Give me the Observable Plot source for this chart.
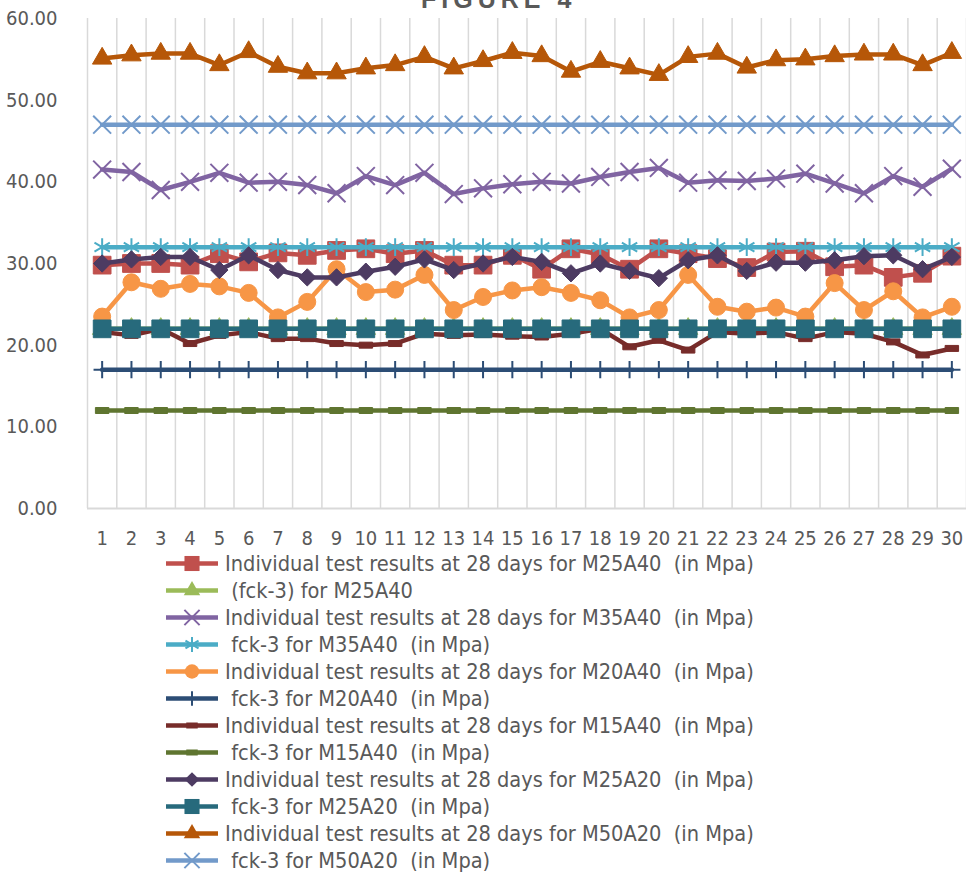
<!DOCTYPE html>
<html>
<head>
<meta charset="utf-8">
<script src="https://cdn.jsdelivr.net/npm/d3@7"></script>
<script src="https://cdn.jsdelivr.net/npm/@observablehq/plot@0.6"></script>
<style>
  body { margin: 0; background: #fff; overflow: hidden; }
  #wrap { position: relative; width: 966px; height: 876px; font-family: "Liberation Sans Narrow", "DejaVu Sans Condensed", "Liberation Sans", sans-serif; color: #595959; }
  #title { position: absolute; top: -13px; left: 421px; font-family: "Liberation Sans", sans-serif; font-weight: bold; font-size: 25px; letter-spacing: 5px; color: #595959; line-height: 25px; white-space: pre; }
  #chart { position: absolute; top: 0; left: 0; }
  #legend { position: absolute; top: 550px; left: 164px; }
  .row { height: 27px; display: flex; align-items: center; }
  .row svg { flex: none; }
  .row span { white-space: pre; font-size: 21.6px; color: #595959; margin-left: 5px; }
</style>
</head>
<body>
<div id="wrap">
  <div id="chart"></div>
  <div id="title">FIGURE 4</div>
  <div id="legend"></div>
</div>
<script>
const cats = [1,2,3,4,5,6,7,8,9,10,11,12,13,14,15,16,17,18,19,20,21,22,23,24,25,26,27,28,29,30];
const yTicks = [0,10,20,30,40,50,60];

const m25a40 = [29.8,30.0,30.0,29.8,31.2,30.2,31.3,31.0,31.6,31.8,31.2,31.6,29.8,29.8,31.0,29.3,31.8,31.1,29.3,31.8,31.2,30.6,29.5,31.4,31.5,29.6,29.8,28.3,28.8,30.9];
const fckM25a40 = [22,22,22,22,22,22,22,22,22,22,22,22,22,22,22,22,22,22,22,22,22,22,22,22,22,22,22,22,22,22];
const m35a40 = [41.5,41.2,39.0,40.0,41.1,39.9,40.0,39.6,38.6,40.7,39.6,41.1,38.5,39.2,39.7,40.0,39.8,40.6,41.2,41.7,39.9,40.2,40.1,40.4,41.0,39.8,38.6,40.7,39.4,41.6];
const fckM35a40 = [32,32,32,32,32,32,32,32,32,32,32,32,32,32,32,32,32,32,32,32,32,32,32,32,32,32,32,32,32,32];
const m20a40 = [23.5,27.7,26.9,27.5,27.2,26.4,23.4,25.3,29.3,26.5,26.8,28.6,24.3,25.9,26.7,27.1,26.4,25.5,23.4,24.3,28.6,24.7,24.1,24.6,23.5,27.6,24.3,26.6,23.4,24.7];
const fckM20a40 = [17,17,17,17,17,17,17,17,17,17,17,17,17,17,17,17,17,17,17,17,17,17,17,17,17,17,17,17,17,17];
const m15a40 = [21.6,21.2,22.0,20.2,21.2,21.6,20.8,20.8,20.2,20.0,20.2,21.4,21.2,21.3,21.1,21.0,21.4,22.0,19.8,20.6,19.4,21.6,21.4,21.6,20.8,21.6,21.4,20.4,18.8,19.6];
const fckM15a40 = [12,12,12,12,12,12,12,12,12,12,12,12,12,12,12,12,12,12,12,12,12,12,12,12,12,12,12,12,12,12];
const m25a20 = [30.0,30.5,30.8,30.8,29.2,31.0,29.2,28.3,28.3,29.0,29.6,30.5,29.2,30.0,30.8,30.2,28.8,30.0,29.1,28.2,30.4,31.0,29.1,30.1,30.1,30.4,30.9,31.0,29.3,30.8];
const fckM25a20 = [22,22,22,22,22,22,22,22,22,22,22,22,22,22,22,22,22,22,22,22,22,22,22,22,22,22,22,22,22,22];
const m50a20 = [55.1,55.5,55.7,55.7,54.3,55.9,54.1,53.3,53.3,53.9,54.3,55.3,53.9,54.8,55.8,55.4,53.5,54.7,53.9,53.1,55.3,55.7,54.0,54.9,55.0,55.4,55.6,55.6,54.3,55.8];
const fckM50a20 = [47,47,47,47,47,47,47,47,47,47,47,47,47,47,47,47,47,47,47,47,47,47,47,47,47,47,47,47,47,47];

const seriesNames = [
  "Individual test results at 28 days for M25A40  (in Mpa)",
  " (fck-3) for M25A40",
  "Individual test results at 28 days for M35A40  (in Mpa)",
  " fck-3 for M35A40  (in Mpa)",
  "Individual test results at 28 days for M20A40  (in Mpa)",
  " fck-3 for M20A40  (in Mpa)",
  "Individual test results at 28 days for M15A40  (in Mpa)",
  " fck-3 for M15A40  (in Mpa)",
  "Individual test results at 28 days for M25A20  (in Mpa)",
  " fck-3 for M25A20  (in Mpa)",
  "Individual test results at 28 days for M50A20  (in Mpa)",
  " fck-3 for M50A20  (in Mpa)"
];
const seriesValues = [m25a40, fckM25a40, m35a40, fckM35a40, m20a40, fckM20a40, m15a40, fckM15a40, m25a20, fckM25a20, m50a20, fckM50a20];
const seriesColors = ["#C0504D","#9BBB59","#8064A2","#4BACC6","#F79646","#2C4D75","#772C2A","#5F7530","#4D3B62","#276A7C","#B65708","#729ACA"];
const seriesSymbols = ["square","triangle","times","asterisk","circle","plus","dash","dash","diamond2","square","triangle","times"];
const symbolR = {square: 10, triangle: 7.2, times: 8.2, asterisk: 8.4, circle: 8.5, plus: 5.6, diamond2: 7.8, dash: 4};
const strokeSymbols = new Set(["times","asterisk","plus"]);

// Excel-style "dash" marker: a short, thick horizontal bar
const dashSymbol = {
  draw(context, size) {
    const w = Math.sqrt(size) * 0.95, h = 3;
    context.moveTo(-w, -h); context.lineTo(w, -h); context.lineTo(w, h); context.lineTo(-w, h); context.closePath();
  }
};
const symbolOf = s => s === "dash" ? dashSymbol : s;

const marks = [];
const bounds = cats.map(c => c - 0.5).concat([cats[cats.length - 1] + 0.5]);
marks.push(Plot.ruleX(bounds, {x: d => d, y1: 0, y2: 60, stroke: "#d9d9d9", strokeWidth: 1.5}));
marks.push(Plot.ruleY([0], {stroke: "#d9d9d9", strokeWidth: 2}));

seriesNames.forEach((name, i) => {
  const rows = cats.map((c, j) => ({x: c, y: seriesValues[i][j]}));
  marks.push(Plot.line(rows, {x: "x", y: "y", stroke: seriesColors[i], strokeWidth: 4.5, strokeLinejoin: "round", strokeLinecap: "round"}));
  const sym = seriesSymbols[i];
  if (sym) {
    const s = symbolOf(sym);
    if (strokeSymbols.has(sym)) {
      marks.push(Plot.dot(rows, {x: "x", y: "y", symbol: () => s, r: symbolR[sym], stroke: seriesColors[i], strokeWidth: 2, fill: "none"}));
    } else {
      marks.push(Plot.dot(rows, {x: "x", y: "y", symbol: () => s, r: symbolR[sym], fill: seriesColors[i], stroke: seriesColors[i], strokeWidth: 1}));
    }
  }
});

const chart = Plot.plot({
  width: 966,
  height: 562,
  marginTop: 18,
  marginBottom: 54,
  marginLeft: 87,
  marginRight: 0,
  style: {fontFamily: '"Liberation Sans Narrow", "DejaVu Sans Condensed", sans-serif', fontSize: "20px", color: "#595959", background: "transparent", overflow: "visible"},
  x: {domain: [0.5, 30.5], ticks: cats, tickFormat: d => String(d), tickSize: 0, tickPadding: 22, label: null},
  y: {domain: [0, 60], ticks: yTicks, tickFormat: d => d.toFixed(2), tickSize: 0, tickPadding: 30, label: null},
  symbol: {type: "identity"},
  marks
});
document.getElementById("chart").appendChild(chart);

// legend
const legend = document.getElementById("legend");
seriesNames.forEach((name, i) => {
  const row = document.createElement("div");
  row.className = "row";
  const ns = "http://www.w3.org/2000/svg";
  const svg = document.createElementNS(ns, "svg");
  svg.setAttribute("width", 56);
  svg.setAttribute("height", 27);
  const line = document.createElementNS(ns, "line");
  line.setAttribute("x1", 2); line.setAttribute("x2", 54);
  line.setAttribute("y1", 13.5); line.setAttribute("y2", 13.5);
  line.setAttribute("stroke", seriesColors[i]);
  line.setAttribute("stroke-width", 4.5);
  svg.appendChild(line);
  const sym = seriesSymbols[i];
  if (sym) {
    const typeMap = {square: d3.symbolSquare, triangle: d3.symbolTriangle, times: d3.symbolTimes, asterisk: d3.symbolAsterisk, circle: d3.symbolCircle, plus: d3.symbolPlus, diamond2: d3.symbolDiamond2, dash: dashSymbol};
    const r = symbolR[sym] * 0.85;
    const p = document.createElementNS(ns, "path");
    p.setAttribute("d", d3.symbol(typeMap[sym], Math.PI * r * r)());
    p.setAttribute("transform", "translate(28,13.5)");
    if (strokeSymbols.has(sym)) {
      p.setAttribute("fill", "none"); p.setAttribute("stroke", seriesColors[i]); p.setAttribute("stroke-width", 2);
    } else {
      p.setAttribute("fill", seriesColors[i]);
    }
    svg.appendChild(p);
  }
  row.appendChild(svg);
  const span = document.createElement("span");
  span.textContent = name;
  row.appendChild(span);
  legend.appendChild(row);
});
</script>
</body>
</html>
